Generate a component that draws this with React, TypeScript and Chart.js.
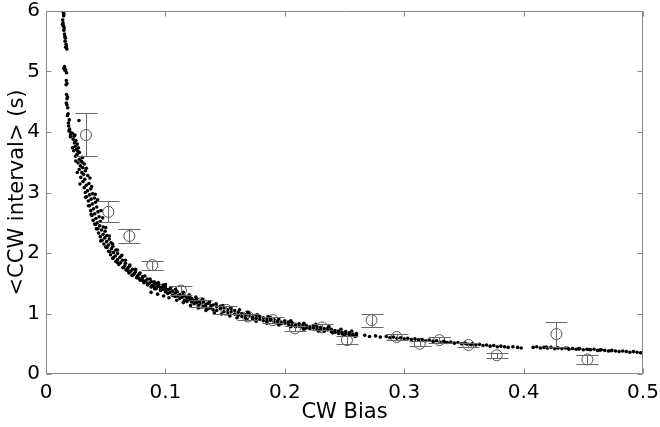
import React, { useEffect, useRef } from 'react';
import { Chart, registerables } from 'chart.js';

Chart.register(...registerables);

const xTickLabels = ['0', '0.1', '0.2', '0.3', '0.4', '0.5'];
const yTickLabels = ['0', '1', '2', '3', '4', '5', '6'];

// individual measurements: [CW bias, <CCW interval> (s)]
const dotsSteep: [number, number][] = [
  [0.0145, 5.98], [0.0150, 5.95], [0.0148, 5.92], [0.0140, 5.85], [0.0143, 5.80], [0.0138, 5.78],
  [0.0147, 5.75], [0.0152, 5.72], [0.0150, 5.68], [0.0155, 5.62], [0.0158, 5.58], [0.0162, 5.55],
  [0.0160, 5.50], [0.0168, 5.45], [0.0172, 5.42], [0.0165, 5.40], [0.0175, 5.37], [0.0150, 5.05],
  [0.0155, 5.08], [0.0158, 5.02], [0.0165, 5.03], [0.0172, 4.98], [0.0170, 4.85], [0.0175, 4.80],
  [0.0168, 4.78], [0.0172, 4.62], [0.0180, 4.58], [0.0176, 4.55], [0.0170, 4.48], [0.0175, 4.45],
  [0.0182, 4.40], [0.0185, 4.30], [0.0180, 4.27], [0.0195, 4.20], [0.0188, 4.15], [0.0190, 4.10],
  [0.0198, 4.05], [0.0192, 4.02], [0.0202, 4.00], [0.0205, 3.95], [0.0276, 4.19],
];

const dotsUpper: [number, number][] = [
  [0.0220, 3.98], [0.0235, 3.93], [0.0228, 3.88], [0.0250, 3.86], [0.0238, 3.82], [0.0262, 3.80],
  [0.0245, 3.76], [0.0272, 3.74], [0.0255, 3.71], [0.0232, 3.69], [0.0280, 3.66], [0.0260, 3.63],
  [0.0248, 3.60], [0.0305, 3.58], [0.0280, 3.55], [0.0295, 3.52], [0.0268, 3.49], [0.0320, 3.47],
  [0.0288, 3.44], [0.0308, 3.41], [0.0278, 3.38], [0.0330, 3.36], [0.0300, 3.33], [0.0315, 3.30],
  [0.0350, 3.28], [0.0292, 3.25], [0.0325, 3.22], [0.0310, 3.18], [0.0360, 3.15], [0.0338, 3.12],
  [0.0320, 3.08], [0.0375, 3.06], [0.0348, 3.03], [0.0330, 3.00], [0.0390, 2.98], [0.0365, 2.96],
  [0.0340, 2.93], [0.0405, 2.91], [0.0378, 2.89], [0.0355, 2.86], [0.0415, 2.84], [0.0388, 2.81],
  [0.0365, 2.78], [0.0425, 2.76], [0.0398, 2.73], [0.0375, 2.70], [0.0435, 2.68], [0.0408, 2.65],
  [0.0385, 2.62], [0.0445, 2.60], [0.0418, 2.57], [0.0395, 2.54], [0.0455, 2.52], [0.0430, 2.50],
  [0.0205, 3.92], [0.0242, 3.95], [0.0222, 3.74], [0.0268, 3.68], [0.0250, 3.52], [0.0302, 3.50],
  [0.0262, 3.33], [0.0338, 3.40], [0.0285, 3.14], [0.0368, 3.24], [0.0332, 2.92], [0.0382, 3.10],
  [0.0355, 2.78], [0.0412, 2.97], [0.0378, 2.64], [0.0432, 2.88], [0.0408, 2.48], [0.0460, 2.70],
  [0.0422, 2.40], [0.0475, 2.58],
];

const dotsKnee: [number, number][] = [
  [0.0415, 2.47], [0.0450, 2.45], [0.0480, 2.43], [0.0425, 2.40], [0.0465, 2.38], [0.0495, 2.36],
  [0.0440, 2.33], [0.0478, 2.31], [0.0510, 2.29], [0.0455, 2.27], [0.0492, 2.25], [0.0530, 2.23],
  [0.0470, 2.21], [0.0508, 2.19], [0.0545, 2.17], [0.0485, 2.15], [0.0522, 2.13], [0.0560, 2.11],
  [0.0510, 2.09], [0.0548, 2.07], [0.0585, 2.05], [0.0525, 2.03], [0.0565, 2.01], [0.0600, 1.99],
  [0.0540, 1.97], [0.0580, 1.95], [0.0620, 1.93], [0.0560, 1.91], [0.0600, 1.89], [0.0640, 1.88],
  [0.0585, 1.86], [0.0625, 1.84], [0.0665, 1.83], [0.0610, 1.81], [0.0660, 1.79], [0.0700, 1.78],
  [0.0645, 1.76], [0.0685, 1.75], [0.0725, 1.73], [0.0670, 1.72], [0.0710, 1.70], [0.0750, 1.69],
  [0.0695, 1.67], [0.0740, 1.66], [0.0780, 1.65], [0.0720, 1.63], [0.0765, 1.62], [0.0810, 1.61],
  [0.0760, 1.59], [0.0805, 1.58], [0.0850, 1.57], [0.0790, 1.55], [0.0835, 1.54], [0.0880, 1.53],
  [0.0820, 1.51], [0.0865, 1.50], [0.0910, 1.49], [0.0850, 1.47], [0.0895, 1.46], [0.0940, 1.45],
  [0.0880, 1.44], [0.0925, 1.43], [0.0970, 1.42], [0.0910, 1.41], [0.0960, 1.40], [0.1005, 1.39],
  [0.0435, 2.40], [0.0500, 2.42], [0.0458, 2.20], [0.0530, 2.28], [0.0500, 2.10], [0.0558, 2.15],
  [0.0535, 2.02], [0.0600, 2.05], [0.0562, 1.92], [0.0635, 1.96], [0.0600, 1.84], [0.0665, 1.88],
  [0.0650, 1.76], [0.0702, 1.80], [0.0690, 1.70], [0.0750, 1.73], [0.0730, 1.64], [0.0788, 1.67],
  [0.0778, 1.58], [0.0828, 1.62], [0.0812, 1.54], [0.0872, 1.57], [0.0850, 1.50], [0.0908, 1.52],
  [0.0888, 1.46], [0.0945, 1.48], [0.0922, 1.42], [0.0985, 1.44],
];

const dotsMid: [number, number][] = [
  [0.090, 1.52], [0.090, 1.45], [0.092, 1.49], [0.092, 1.41], [0.094, 1.46], [0.094, 1.51],
  [0.096, 1.43], [0.096, 1.38], [0.098, 1.47], [0.098, 1.40], [0.100, 1.36], [0.100, 1.44],
  [0.102, 1.39], [0.102, 1.33], [0.104, 1.41], [0.104, 1.35], [0.106, 1.30], [0.106, 1.37],
  [0.108, 1.34], [0.108, 1.28], [0.110, 1.36], [0.110, 1.29], [0.112, 1.31], [0.112, 1.25],
  [0.114, 1.33], [0.114, 1.27], [0.116, 1.22], [0.116, 1.29], [0.118, 1.26], [0.118, 1.20],
  [0.120, 1.28], [0.120, 1.23], [0.122, 1.19], [0.122, 1.25], [0.124, 1.22], [0.124, 1.16],
  [0.126, 1.24], [0.126, 1.18], [0.128, 1.14], [0.128, 1.20], [0.130, 1.17], [0.130, 1.21],
  [0.132, 1.12], [0.132, 1.19], [0.134, 1.15], [0.134, 1.10], [0.136, 1.17], [0.136, 1.08],
  [0.138, 1.13], [0.138, 1.09], [0.140, 1.06], [0.140, 1.14], [0.143, 1.11], [0.143, 1.05],
  [0.146, 1.08], [0.146, 1.12], [0.149, 1.03], [0.149, 1.09], [0.152, 1.06], [0.152, 1.01],
  [0.155, 1.08], [0.155, 1.03], [0.158, 0.99], [0.158, 1.05], [0.161, 1.02], [0.161, 0.97],
  [0.164, 1.00], [0.164, 0.95], [0.167, 0.98], [0.167, 0.93], [0.170, 0.96], [0.170, 1.00],
  [0.173, 0.94], [0.173, 0.91], [0.176, 0.97], [0.176, 0.92], [0.179, 0.90], [0.179, 0.95],
  [0.182, 0.93], [0.182, 0.88], [0.185, 0.91], [0.185, 0.87], [0.188, 0.89], [0.188, 0.93],
  [0.191, 0.86], [0.191, 0.90], [0.194, 0.88], [0.194, 0.84], [0.197, 0.86], [0.197, 0.83],
  [0.200, 0.84], [0.200, 0.88], [0.203, 0.82], [0.203, 0.86], [0.206, 0.85], [0.206, 0.80],
  [0.209, 0.81], [0.209, 0.78], [0.212, 0.83], [0.212, 0.79], [0.215, 0.77], [0.215, 0.81],
  [0.218, 0.80], [0.218, 0.76], [0.221, 0.78], [0.221, 0.75], [0.224, 0.76], [0.224, 0.80],
  [0.227, 0.74], [0.227, 0.78], [0.230, 0.77], [0.230, 0.73], [0.233, 0.75], [0.233, 0.71],
  [0.236, 0.73], [0.236, 0.76], [0.239, 0.70], [0.239, 0.74], [0.242, 0.72], [0.242, 0.69],
  [0.245, 0.71], [0.245, 0.67], [0.248, 0.69], [0.248, 0.66], [0.251, 0.67], [0.251, 0.70],
  [0.254, 0.68], [0.254, 0.65], [0.257, 0.66], [0.257, 0.64], [0.260, 0.65], [0.260, 0.67],
  [0.0880, 1.35], [0.1000, 1.48], [0.0935, 1.32], [0.1045, 1.43], [0.0985, 1.29], [0.1085, 1.40],
  [0.1030, 1.26], [0.1150, 1.35], [0.1095, 1.22], [0.1200, 1.31], [0.1150, 1.18], [0.1255, 1.27],
  [0.1210, 1.13], [0.1310, 1.23], [0.1275, 1.09], [0.1370, 1.19], [0.1340, 1.05], [0.1425, 1.16],
  [0.1410, 1.01], [0.1480, 1.13], [0.1470, 0.99], [0.1545, 1.10], [0.1540, 0.96], [0.1620, 1.06],
  [0.1600, 0.93], [0.1690, 1.02], [0.1680, 0.90], [0.1770, 0.98], [0.1760, 0.87], [0.1860, 0.95],
  [0.1850, 0.84], [0.1950, 0.91], [0.1950, 0.81], [0.2050, 0.88], [0.2050, 0.78], [0.2160, 0.84],
  [0.2160, 0.74], [0.2260, 0.82], [0.2280, 0.71], [0.2370, 0.78], [0.2400, 0.68], [0.2470, 0.74],
  [0.2500, 0.64], [0.2560, 0.71], [0.2590, 0.62],
];

const dotsSparse: [number, number][] = [
  [0.267, 0.64], [0.271, 0.62], [0.276, 0.63], [0.280, 0.61], [0.285, 0.62], [0.288, 0.60],
  [0.291, 0.61], [0.294, 0.59], [0.297, 0.60], [0.300, 0.58], [0.303, 0.59], [0.306, 0.57],
  [0.309, 0.58], [0.312, 0.56], [0.315, 0.57], [0.318, 0.55], [0.321, 0.56], [0.324, 0.54],
  [0.327, 0.55], [0.330, 0.53], [0.333, 0.54], [0.334, 0.525], [0.336, 0.52], [0.339, 0.53],
  [0.342, 0.51], [0.345, 0.52], [0.348, 0.50], [0.351, 0.51], [0.352, 0.495], [0.354, 0.49],
  [0.356, 0.485], [0.357, 0.50], [0.360, 0.48], [0.363, 0.49], [0.366, 0.47], [0.369, 0.48],
  [0.372, 0.46], [0.375, 0.47], [0.378, 0.45], [0.381, 0.46], [0.384, 0.45], [0.387, 0.44],
  [0.391, 0.45], [0.395, 0.44], [0.398, 0.43],
];

const dotsTail: [number, number][] = [
  [0.408, 0.44], [0.411, 0.45], [0.414, 0.43], [0.417, 0.44], [0.419, 0.445], [0.420, 0.43],
  [0.423, 0.44], [0.426, 0.42], [0.428, 0.435], [0.429, 0.43], [0.432, 0.42], [0.435, 0.43],
  [0.437, 0.425], [0.438, 0.41], [0.441, 0.42], [0.444, 0.41], [0.446, 0.415], [0.447, 0.42],
  [0.450, 0.40], [0.453, 0.41], [0.455, 0.405], [0.456, 0.40], [0.459, 0.41], [0.462, 0.39],
  [0.464, 0.395], [0.465, 0.40], [0.468, 0.39], [0.471, 0.38], [0.473, 0.385], [0.474, 0.39],
  [0.477, 0.38], [0.480, 0.37], [0.483, 0.38], [0.486, 0.37], [0.489, 0.36], [0.492, 0.37],
  [0.495, 0.36], [0.498, 0.35], [0.500, 0.36],
];

// binned means with error bars
const meanBias = [0.0335, 0.0522, 0.0698, 0.089, 0.113, 0.130, 0.151, 0.169, 0.190, 0.2085,
  0.2314, 0.252, 0.2727, 0.2937, 0.313, 0.3294, 0.3537, 0.3775, 0.4275, 0.4534];
const meanInterval = [3.95, 2.68, 2.28, 1.80, 1.38, 1.17, 1.06, 0.95, 0.89, 0.755,
  0.77, 0.56, 0.89, 0.61, 0.50, 0.56, 0.48, 0.31, 0.66, 0.24];
const intervalLow = [3.60, 2.51, 2.16, 1.72, 1.30, 1.11, 1.00, 0.90, 0.84, 0.71,
  0.72, 0.50, 0.78, 0.56, 0.46, 0.51, 0.44, 0.27, 0.44, 0.165];
const intervalHigh = [4.31, 2.86, 2.39, 1.87, 1.45, 1.23, 1.12, 1.00, 0.94, 0.80,
  0.82, 0.62, 1.00, 0.66, 0.54, 0.61, 0.52, 0.35, 0.855, 0.31];

const FONT = "'DejaVu Sans', 'Liberation Sans', Arial, sans-serif";

const noScalePadding = (s: any) => {
  s.paddingTop = 0;
  s.paddingBottom = 0;
  s.paddingLeft = 0;
  s.paddingRight = 0;
};

export default function App() {
  const ref = useRef<HTMLCanvasElement>(null);

  useEffect(() => {
    document.body.style.margin = '0';
    const canvas = ref.current;
    if (!canvas) return;

    const dots = [...dotsSteep, ...dotsUpper, ...dotsKnee, ...dotsMid, ...dotsSparse, ...dotsTail]
      .map(([x, y]) => ({ x, y }));
    const means = meanBias.map((x, i) => ({ x, y: meanInterval[i] }));

    const errorBars = {
      id: 'errorBars',
      afterDatasetsDraw(chart: any) {
        const { ctx, scales } = chart;
        const xs = scales.x;
        const ys = scales.y;
        ctx.save();
        ctx.strokeStyle = '#666';
        ctx.lineWidth = 1;
        meanBias.forEach((bx, i) => {
          const px = Math.round(xs.getPixelForValue(bx)) + 0.5;
          const lo = Math.round(ys.getPixelForValue(intervalLow[i])) + 0.5;
          const hi = Math.round(ys.getPixelForValue(intervalHigh[i])) + 0.5;
          ctx.beginPath();
          ctx.moveTo(px, lo);
          ctx.lineTo(px, hi);
          ctx.moveTo(px - 11, lo);
          ctx.lineTo(px + 11, lo);
          ctx.moveTo(px - 11, hi);
          ctx.lineTo(px + 11, hi);
          ctx.stroke();
        });
        ctx.restore();
      },
    };

    const frame = {
      id: 'frame',
      afterDraw(chart: any) {
        const { ctx, chartArea, scales } = chart;
        const { left, right, top, bottom } = chartArea;
        ctx.save();
        ctx.strokeStyle = '#888';
        ctx.lineWidth = 1;
        const l = Math.round(left) + 0.5;
        const r = Math.round(right) - 0.5;
        const t = Math.round(top) + 0.5;
        const b = Math.round(bottom) - 0.5;
        ctx.beginPath();
        ctx.rect(l, t, r - l, b - t);
        const tick = 5;
        scales.x.ticks.forEach((tk: any) => {
          const px = Math.round(scales.x.getPixelForValue(tk.value)) + 0.5;
          ctx.moveTo(px, b);
          ctx.lineTo(px, b - tick);
          ctx.moveTo(px, t);
          ctx.lineTo(px, t + tick);
        });
        scales.y.ticks.forEach((tk: any) => {
          const py = Math.round(scales.y.getPixelForValue(tk.value)) + 0.5;
          ctx.moveTo(l, py);
          ctx.lineTo(l + tick, py);
          ctx.moveTo(r, py);
          ctx.lineTo(r - tick, py);
        });
        ctx.stroke();
        ctx.restore();
      },
    };

    const chart = new Chart(canvas, {
      type: 'scatter',
      data: {
        datasets: [
          {
            label: 'measurements',
            data: dots,
            pointRadius: 1.8,
            pointHoverRadius: 1.8,
            pointBackgroundColor: '#000',
            pointBorderWidth: 0,
            borderColor: '#000',
            backgroundColor: '#000',
          },
          {
            label: 'binned mean',
            data: means,
            pointRadius: 5.5,
            pointHoverRadius: 5.5,
            pointBackgroundColor: 'rgba(0,0,0,0)',
            pointBorderColor: '#555',
            pointBorderWidth: 1,
            borderColor: '#555',
            backgroundColor: 'rgba(0,0,0,0)',
          },
        ],
      },
      options: {
        animation: false,
        responsive: false,
        maintainAspectRatio: false,
        events: [],
        layout: { padding: { left: 0, right: 17, top: 11, bottom: 0 } },
        plugins: {
          legend: { display: false },
          tooltip: { enabled: false },
        },
        scales: {
          x: {
            type: 'linear',
            min: 0,
            max: 0.5,
            grid: { display: false, drawTicks: false },
            border: { display: false },
            ticks: {
              stepSize: 0.1,
              autoSkip: false,
              maxRotation: 0,
              padding: 9,
              color: '#000',
              font: { family: FONT, size: 20, lineHeight: 1 },
              callback: (_v: any, i: number) => xTickLabels[i],
            },
            title: {
              display: true,
              text: 'CW Bias',
              color: '#000',
              font: { family: FONT, size: 21 },
              padding: { top: 0, bottom: 2 },
            },
            afterFit: (s: any) => {
              s.height = 53;
              noScalePadding(s);
            },
          },
          y: {
            type: 'linear',
            min: 0,
            max: 6,
            grid: { display: false, drawTicks: false },
            border: { display: false },
            ticks: {
              stepSize: 1,
              autoSkip: false,
              padding: 6,
              color: '#000',
              font: { family: FONT, size: 20, lineHeight: 1 },
              callback: (_v: any, i: number) => yTickLabels[i],
            },
            title: {
              display: true,
              text: '<CCW interval> (s)',
              color: '#000',
              font: { family: FONT, size: 21 },
              padding: { top: 5, bottom: 0 },
            },
            afterFit: (s: any) => {
              s.width = 46;
              noScalePadding(s);
            },
          },
        },
      },
      plugins: [errorBars, frame],
    });

    return () => chart.destroy();
  }, []);

  return (
    <canvas
      ref={ref}
      width={660}
      height={427}
      style={{ display: 'block', width: 660, height: 427 }}
    />
  );
}
